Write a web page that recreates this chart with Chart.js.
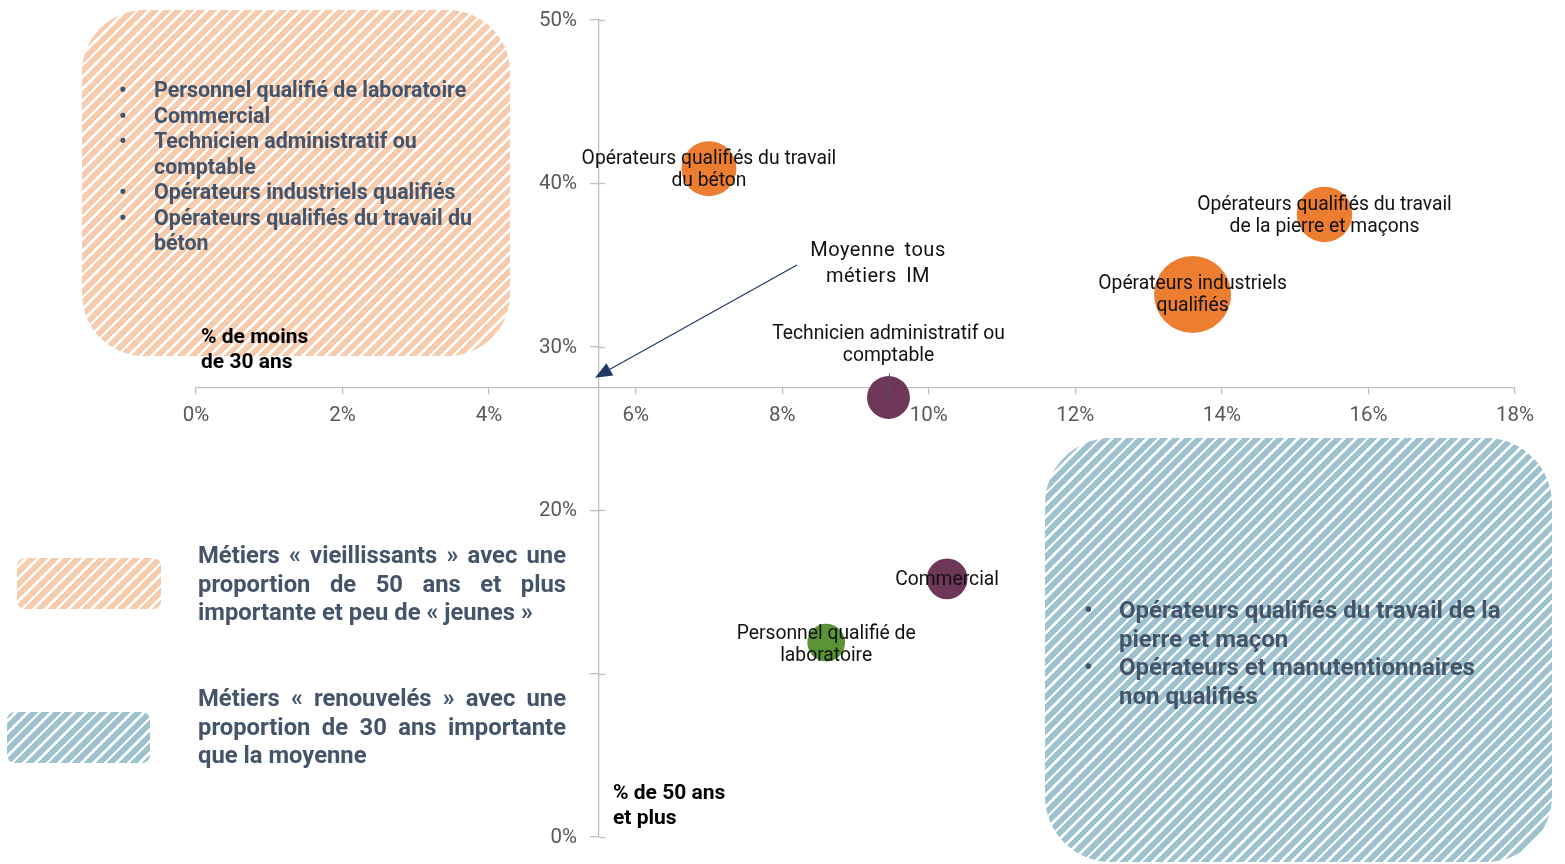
<!DOCTYPE html>
<html lang="fr">
<head>
	<meta charset="UTF-8">
	<title>Métiers : part des moins de 30 ans et des 50 ans et plus</title>
	<script src="https://cdn.jsdelivr.net/npm/chart.js@4.4.1/dist/chart.umd.min.js"></script>
	<style>
		body { margin: 0; background: #fff; font-family: Roboto, sans-serif; }
		#cadre { position: relative; width: 1565px; height: 864px; overflow: hidden; }
		#bulles { position: absolute; left: 0; top: 0; z-index: 1; }

		.hachure-orange { background: repeating-linear-gradient(135deg, #F8CBAD 0 5.6px, #fff 5.6px 8.2px); }
		.hachure-bleu { background: repeating-linear-gradient(135deg, #9CC3CF 0 5.6px, #fff 5.6px 8.2px); }
		.bloc { position: absolute; z-index: 0; }

		.liste { position: absolute; z-index: 2; color: #44546A; font-weight: 700; white-space: nowrap; }
		.liste .item { position: relative; }
		.liste .puce { position: absolute; left: 0; top: 0; }

		.legende { position: absolute; z-index: 2; left: 198px; width: 368px; color: #44546A;
			font-weight: 700; font-size: 23.8px; line-height: 28.5px; }
		.legende div { text-align: justify; text-align-last: justify; white-space: nowrap; }
		.legende div.fin { text-align-last: left; }

		.titre-axe { position: absolute; z-index: 2; color: #000; font-weight: 700; font-size: 21px; line-height: 25px; white-space: nowrap; }
	</style>
</head>
<body>
<div id="cadre">

	<!-- blocs hachurés -->
	<div class="bloc hachure-orange" style="left:82px; top:10px; width:428px; height:346px; border-radius:62px;"></div>
	<div class="bloc hachure-bleu" style="left:1045px; top:438px; width:507px; height:424px; border-radius:66px;"></div>
	<div class="bloc hachure-orange" style="left:17px; top:558px; width:144px; height:51px; border-radius:8px;"></div>
	<div class="bloc hachure-bleu" style="left:7px; top:712px; width:143px; height:51px; border-radius:8px;"></div>

	<canvas id="bulles" width="1565" height="864"></canvas>

	<!-- listes dans les blocs -->
	<div class="liste" style="left:119px; top:77px; font-size:21.4px; line-height:25.5px;">
		<div class="item" style="padding-left:35px;"><span class="puce">•</span>Personnel qualifié de laboratoire</div>
		<div class="item" style="padding-left:35px;"><span class="puce">•</span>Commercial</div>
		<div class="item" style="padding-left:35px;"><span class="puce">•</span>Technicien administratif ou<br>comptable</div>
		<div class="item" style="padding-left:35px;"><span class="puce">•</span>Opérateurs industriels qualifiés</div>
		<div class="item" style="padding-left:35px;"><span class="puce">•</span>Opérateurs qualifiés du travail du<br>béton</div>
	</div>

	<div class="liste" style="left:1084px; top:596px; font-size:24px; line-height:28.5px;">
		<div class="item" style="padding-left:35px;"><span class="puce">•</span>Opérateurs qualifiés du travail de la<br>pierre et maçon</div>
		<div class="item" style="padding-left:35px;"><span class="puce">•</span>Opérateurs et manutentionnaires<br>non qualifiés</div>
	</div>

	<!-- légende -->
	<div class="legende" style="top:541px;">
		<div>Métiers « vieillissants » avec une</div>
		<div>proportion de 50 ans et plus</div>
		<div class="fin">importante et peu de « jeunes »</div>
	</div>
	<div class="legende" style="top:684px;">
		<div>Métiers « renouvelés » avec une</div>
		<div>proportion de 30 ans importante</div>
		<div class="fin">que la moyenne</div>
	</div>

	<!-- titres des axes -->
	<div class="titre-axe" style="left:201px; top:324px;">% de moins<br>de 30 ans</div>
	<div class="titre-axe" style="left:613px; top:780px;">% de 50 ans<br>et plus</div>
</div>

<script>
	// données
	var metiers = [
		["Opérateurs qualifiés du travail", "du béton"],
		["Opérateurs qualifiés du travail", "de la pierre et maçons"],
		["Opérateurs industriels", "qualifiés"],
		["Technicien administratif ou", "comptable"],
		["Commercial"],
		["Personnel qualifié de", "laboratoire"]
	];
	var part50ansEtPlus = [7.0, 15.4, 13.6, 9.45, 10.25, 8.6];   // %
	var partMoins30ans = [40.9, 38.1, 33.2, 26.9, 15.8, 11.9];   // %
	var effectifs = [5.1, 5.2, 10, 3.1, 2.8, 2.4];                 // taille des bulles
	var moyenne50ans = 5.5;
	var moyenneMoins30ans = 27.5;
	var ticksX = [0, 2, 4, 6, 8, 10, 12, 14, 16, 18];
	var ticksY = [0, 10, 20, 30, 40, 50];
	var ticksYSansLibelle = [10];

	// styles
	var couleurs = ["#ED7D31", "#ED7D31", "#ED7D31", "#6E3757", "#6E3757", "#5B9337"];
	var decalageEtiquette = [1, 2, 1, -52, 1, 3];
	var gris = "#BFBFBF";
	var policeTicks = "20.5px Roboto";

	Chart.defaults.font.family = "Roboto";

	var points = part50ansEtPlus.map(function (x, i) {
		return { x: x, y: partMoins30ans[i] };
	});

	// les axes croisés ne doivent pas prendre de place dans la mise en page
	function sansEncombrement(s) {
		if (s.isHorizontal()) s.height = 0; else s.width = 0;
		s.paddingTop = 0; s.paddingBottom = 0; s.paddingLeft = 0; s.paddingRight = 0;
	}

	// étiquettes des bulles
	var etiquettes = {
		id: "etiquettes",
		afterDatasetsDraw: function (chart) {
			var ctx = chart.ctx;
			var pts = chart.getDatasetMeta(0).data;
			ctx.save();
			// trait de rappel pour le technicien
			var t = pts[3];
			ctx.strokeStyle = "#44546A";
			ctx.lineWidth = 1;
			ctx.beginPath();
			ctx.moveTo(t.x + 1, t.y - 24);
			ctx.lineTo(t.x, t.y);
			ctx.stroke();

			ctx.font = "19.3px Roboto";
			ctx.fillStyle = "#111";
			ctx.textAlign = "center";
			ctx.textBaseline = "middle";
			pts.forEach(function (p, i) {
				var lignes = metiers[i];
				var h = 22;
				var y0 = p.y + decalageEtiquette[i] - (lignes.length - 1) * h / 2;
				lignes.forEach(function (l, k) {
					ctx.fillText(l, p.x, y0 + k * h);
				});
			});
			ctx.restore();
		}
	};

	// axe vertical : libellés et graduations croisées + flèche moyenne
	var moyenne = {
		id: "moyenne",
		afterDraw: function (chart) {
			var ctx = chart.ctx;
			var sx = chart.scales.x, sy = chart.scales.y;
			var ax = sx.getPixelForValue(moyenne50ans);
			var ay = sy.getPixelForValue(moyenneMoins30ans);
			ctx.save();
			ctx.strokeStyle = gris;
			ctx.lineWidth = 1.3;
			ctx.font = policeTicks;
			ctx.fillStyle = "#595959";
			ctx.textAlign = "right";
			ctx.textBaseline = "middle";
			ticksY.forEach(function (v) {
				var y = Math.round(sy.getPixelForValue(v)) + 0.5;
				ctx.beginPath();
				ctx.moveTo(ax, y);
				ctx.lineTo(ax + 6, y);
				ctx.stroke();
				if (ticksYSansLibelle.indexOf(v) < 0) ctx.fillText(v + "%", ax - 22, y);
			});

			// flèche
			var tx = ax - 4, ty = ay - 10;
			var qx = 797, qy = 265;
			var dx = tx - qx, dy = ty - qy, n = Math.sqrt(dx * dx + dy * dy);
			dx /= n; dy /= n;
			ctx.strokeStyle = "#203864";
			ctx.fillStyle = "#203864";
			ctx.lineWidth = 1.2;
			ctx.beginPath();
			ctx.moveTo(qx, qy);
			ctx.lineTo(tx - dx * 12, ty - dy * 12);
			ctx.stroke();
			ctx.beginPath();
			ctx.moveTo(tx, ty);
			ctx.lineTo(tx - dx * 17 - dy * 7, ty - dy * 17 + dx * 7);
			ctx.lineTo(tx - dx * 17 + dy * 7, ty - dy * 17 - dx * 7);
			ctx.closePath();
			ctx.fill();

			ctx.font = "20px Roboto";
			ctx.fillStyle = "#111";
			ctx.textAlign = "center";
			ctx.letterSpacing = "0.5px";
			ctx.wordSpacing = "4px";
			ctx.fillText("Moyenne tous", 878, 251);
			ctx.fillText("métiers IM", 878, 277);
			ctx.restore();
		}
	};

	new Chart(document.getElementById("bulles"), {
		type: "bubble",
		data: {
			datasets: [{
				data: points,
				backgroundColor: couleurs,
				borderWidth: 0,
				radius: function (c) {
					return 38.5 * Math.sqrt(effectifs[c.dataIndex] / 10);
				}
			}]
		},
		options: {
			responsive: false,
			animation: false,
			events: [],
			layout: { autoPadding: false, padding: { left: 196, right: 50, top: 20, bottom: 27 } },
			plugins: { legend: { display: false }, tooltip: { enabled: false } },
			scales: {
				x: {
					type: "linear",
					min: 0, max: 18,
					position: { y: moyenneMoins30ans },
					afterBuildTicks: function (s) { s.ticks = ticksX.map(function (v) { return { value: v }; }); },
					afterFit: sansEncombrement,
					grid: { drawOnChartArea: false, drawTicks: true, tickLength: 6, color: gris, lineWidth: 1.3 },
					border: { color: gris, width: 1.3 },
					ticks: {
						color: "#595959", padding: 10, font: { size: 20.5 },
						maxRotation: 0,
						callback: function (v) { return v + "%"; }
					}
				},
				y: {
					type: "linear",
					min: 0, max: 50,
					position: { x: moyenne50ans },
					afterBuildTicks: function (s) { s.ticks = ticksY.map(function (v) { return { value: v }; }); },
					afterFit: sansEncombrement,
					grid: { drawOnChartArea: false, drawTicks: true, tickLength: 8, color: gris, lineWidth: 1.3 },
					border: { color: gris, width: 1.3 },
					ticks: { display: false }
				}
			}
		},
		plugins: [etiquettes, moyenne]
	});
</script>
</body>
</html>
